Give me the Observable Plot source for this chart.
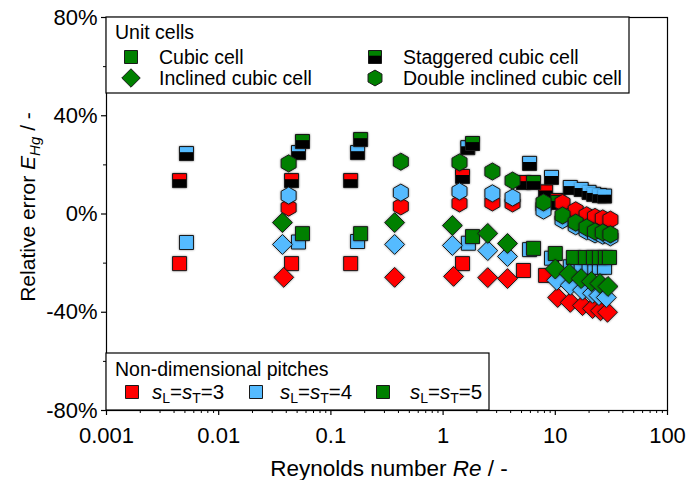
<!DOCTYPE html>
<html><head><meta charset="utf-8">
<script src="https://cdn.jsdelivr.net/npm/d3@7"></script>
<script src="https://cdn.jsdelivr.net/npm/@observablehq/plot@0.6"></script>
<style>
body{margin:0;background:#fff;}
#chart{width:688px;height:480px;}
g[aria-label="dot"] path{filter:drop-shadow(0.6px 0.6px 0.8px rgba(0,0,0,0.45));}
</style></head><body><div id="chart"></div>
<script>
// ---- data (Reynolds number Re, relative error E in %) ----
const cub3_Re = [0.00448, 0.0446, 0.150, 1.49, 5.2, 8.2];
const cub3_E  = [-20.2, -20.2, -20.2, -20.2, -23.0, -25.0];
const cub4_Re = [0.00516, 0.0514, 0.173, 1.68, 5.9, 9.25, 13.6, 17.0, 20.0, 22.5, 24.7, 27.5];
const cub4_E  = [-11.6, -11.4, -11.2, -11.9, -14.5, -18.0, -21.5, -21.6, -21.7, -21.7, -21.7, -21.7];
const cub5_Re = [0.0558, 0.184, 1.83, 6.4, 10.0, 14.5, 18.6, 21.9, 24.8, 28.0, 30.4];
const cub5_E  = [-8.0, -8.0, -9.2, -14.0, -16.1, -17.7, -17.7, -17.7, -17.7, -17.7, -17.7];

const stg3_Re = [0.00448, 0.0446, 0.150, 1.49, 5.2, 8.2, 10.5];
const stg3_E  = [13.6, 13.6, 13.6, 15.3, 12.8, 9.0, 5.5];
const stg4_Re = [0.00516, 0.0514, 0.173, 1.66, 5.9, 9.25, 13.6, 17.0, 20.0, 22.0, 24.7, 27.5];
const stg4_E  = [24.6, 25.0, 25.0, 27.0, 20.6, 14.9, 10.8, 10.0, 8.8, 8.0, 7.5, 7.3];
const stg5_Re = [0.0558, 0.184, 1.83, 6.4, 10.5];
const stg5_E  = [29.5, 30.3, 28.7, 12.8, 4.7];

const inc3_Re = [0.038, 0.37, 1.24, 2.5, 3.75, 10.5, 13.6, 17.5, 21.5, 25.3, 29.2];
const inc3_E  = [-25.8, -25.8, -25.4, -25.9, -26.3, -34.0, -36.0, -37.3, -38.5, -39.4, -40.0];
const inc4_Re = [0.037, 0.37, 1.21, 2.5, 3.75, 10.3, 13.6, 17.5, 21.5, 24.5, 28.5];
const inc4_E  = [-12.4, -12.4, -12.8, -14.9, -17.3, -27.0, -29.0, -31.0, -32.3, -33.2, -34.0];
const inc5_Re = [0.037, 0.37, 1.21, 2.5, 3.75, 10.0, 13.3, 17.0, 21.0, 25.0, 29.5];
const inc5_E  = [-3.5, -3.5, -4.7, -7.9, -12.0, -22.4, -24.3, -26.3, -27.5, -28.3, -29.5];

const dbl_Re  = [0.042, 0.42, 1.40, 2.75, 4.16, 7.85, 11.6, 15.2, 19.0, 22.6, 26.5, 31.0];
const dbl3_E  = [2.6, 3.1, 4.3, 4.7, 4.3, 3.0, 4.5, 1.5, -0.5, -1.2, -1.8, -2.3];
const dbl4_E  = [7.5, 8.7, 9.2, 8.4, 6.7, 1.4, -2.5, -5.0, -7.0, -8.3, -8.8, -9.5];
const dbl5_E  = [20.6, 21.3, 21.0, 17.3, 13.6, 4.7, -0.6, -3.5, -5.5, -7.1, -7.5, -8.3];

const yMajor = [-80, -40, 0, 40, 80];
const yMinor = [-60, -20, 20, 60];
const xMajor = [0.001, 0.01, 0.1, 1, 10, 100];
const xMajorLabels = ["0.001", "0.01", "0.1", "1", "10", "100"];

const pitchColors = {3: "#ff0000", 4: "#55bbff", 5: "#008000"};
const pitchLabels = ["3", "4", "5"];
const cellLabels = ["Cubic cell", "Staggered cubic cell", "Inclined cubic cell", "Double inclined cubic cell"];

// ---- symbols ----
const SQ = {draw(c, size){const s = Math.sqrt(size/Math.PI); c.rect(-s, -s, 2*s, 2*s);}};
const TOP = {draw(c, size){const s = Math.sqrt(size/Math.PI), i = 0.5; c.rect(-s+i, -s+i, 2*s-2*i, 0.8*s-i);}};
const DIA = {draw(c, size){const s = Math.sqrt(size/Math.PI)*1.42; c.moveTo(0,-s); c.lineTo(s,0); c.lineTo(0,s); c.lineTo(-s,0); c.closePath();}};
const HEX = {draw(c, size){const s = Math.sqrt(size/Math.PI), rx = s*1.07, ry = s*1.22;
  c.moveTo(0,-ry); c.lineTo(rx,-ry/2); c.lineTo(rx,ry/2); c.lineTo(0,ry); c.lineTo(-rx,ry/2); c.lineTo(-rx,-ry/2); c.closePath();}};

const rows = (Re, E) => Re.map((r, i) => ({Re: r, E: E[i]}));
const R = 7, ST = "#1a1a1a";
const marks = [];
function plain(data, symbol, color){ marks.push(Plot.dot(data, {x: "Re", y: "E", r: R, symbol, fill: color, stroke: ST, strokeWidth: 1})); }
function stag(data, color){
  marks.push(Plot.dot(data, {x: "Re", y: "E", r: R, symbol: SQ, fill: "#000", stroke: ST, strokeWidth: 1}));
  marks.push(Plot.dot(data, {x: "Re", y: "E", r: R, symbol: TOP, fill: color}));
}
plain(rows(cub3_Re, cub3_E), SQ, pitchColors[3]);
plain(rows(cub4_Re, cub4_E), SQ, pitchColors[4]);
plain(rows(cub5_Re, cub5_E), SQ, pitchColors[5]);
stag(rows(stg3_Re, stg3_E), pitchColors[3]);
stag(rows(stg4_Re, stg4_E), pitchColors[4]);
stag(rows(stg5_Re, stg5_E), pitchColors[5]);
plain(rows(inc3_Re, inc3_E), DIA, pitchColors[3]);
plain(rows(inc4_Re, inc4_E), DIA, pitchColors[4]);
plain(rows(inc5_Re, inc5_E), DIA, pitchColors[5]);
plain(rows(dbl_Re, dbl3_E), HEX, pitchColors[3]);
plain(rows(dbl_Re, dbl4_E), HEX, pitchColors[4]);
plain(rows(dbl_Re, dbl5_E), HEX, pitchColors[5]);

const xMinor = [];
for (const d of [0.001, 0.01, 0.1, 1, 10]) for (let k = 2; k <= 9; k++) xMinor.push(+(k*d).toPrecision(3));

const FONT = "'Liberation Sans', Arial, Helvetica, sans-serif";
const plot = Plot.plot({
  width: 688, height: 480,
  marginLeft: 106, marginRight: 21, marginTop: 17, marginBottom: 70,
  style: {fontFamily: FONT, background: "white", color: "black"},
  x: {type: "log", domain: [0.001, 100]},
  y: {domain: [-80, 80]},
  marks: [
    Plot.axisX({ticks: xMinor, tickSize: 3, tickFormat: () => "", label: null, strokeWidth: 1}),
    Plot.axisX({ticks: xMajor, tickSize: 5, tickPadding: 12, fontSize: 22, label: null, strokeWidth: 1.2,
      tickFormat: d => xMajorLabels[xMajor.indexOf(d)]}),
    Plot.axisY({ticks: yMinor, tickSize: 3, tickFormat: () => "", label: null, strokeWidth: 1}),
    Plot.axisY({ticks: yMajor, tickSize: 5, tickPadding: 4, fontSize: 22, label: null, strokeWidth: 1.2,
      tickFormat: d => d + "%"}),
    ...marks,
    Plot.frame({stroke: "black", strokeWidth: 1.2})
  ]
});
document.getElementById("chart").appendChild(plot);

// ---- titles and legends ----
const svg = d3.select(plot);
const g = svg.append("g").attr("font-family", FONT).attr("fill", "black").attr("text-anchor", "start");
const xt = g.append("text").attr("x", 389).attr("y", 476).attr("text-anchor", "middle").attr("font-size", 22.5);
xt.append("tspan").text("Reynolds number ");
xt.append("tspan").attr("font-style", "italic").text("Re");
xt.append("tspan").text(" / -");
const yt = g.append("text").attr("transform", "translate(35,207) rotate(-90)").attr("text-anchor", "middle").attr("font-size", 21);
yt.append("tspan").text("Relative error ");
yt.append("tspan").attr("font-style", "italic").text("E");
yt.append("tspan").attr("font-style", "italic").attr("font-size", 15).attr("dy", 5).text("Hg");
yt.append("tspan").attr("dy", -5).text(" / -");

const sym = (t, r) => d3.symbol().type(t).size(Math.PI*r*r)();
function legendSym(x, y, type, color, staggered){
  if (staggered){
    g.append("path").attr("d", sym(SQ, 6.5)).attr("transform", `translate(${x},${y})`).attr("fill", "#000").attr("stroke", ST);
    g.append("path").attr("d", sym(TOP, 6.5)).attr("transform", `translate(${x},${y})`).attr("fill", color);
  } else {
    g.append("path").attr("d", sym(type, 6.5)).attr("transform", `translate(${x},${y})`).attr("fill", color).attr("stroke", ST);
  }
}
// unit cells legend
g.append("rect").attr("x", 106).attr("y", 17).attr("width", 523).attr("height", 76).attr("fill", "white").attr("stroke", "black").attr("stroke-width", 1.2);
g.append("text").attr("x", 115).attr("y", 39).attr("font-size", 19.5).text("Unit cells");
const uc = [[131, 57, SQ, false], [375, 57, SQ, true], [131, 78, DIA, false], [375, 78, HEX, false]];
uc.forEach(([x, y, t, st], i) => {
  legendSym(x, y, t, pitchColors[5], st);
  g.append("text").attr("x", x + 28).attr("y", y + 7).attr("font-size", 19.5).text(cellLabels[i]);
});
// pitches legend
g.append("rect").attr("x", 106).attr("y", 353).attr("width", 383).attr("height", 57).attr("fill", "white").attr("stroke", "black").attr("stroke-width", 1.2);
g.append("text").attr("x", 115).attr("y", 376).attr("font-size", 19.5).text("Non-dimensional pitches");
[[132, 3, 152], [256, 4, 280], [383, 5, 410]].forEach(([x, p, tx], i) => {
  legendSym(x, 392, SQ, pitchColors[p], false);
  const t = g.append("text").attr("x", tx).attr("y", 399).attr("font-size", 20.5);
  t.append("tspan").attr("font-style", "italic").text("s");
  t.append("tspan").attr("font-size", 14).attr("dy", 4).text("L");
  t.append("tspan").attr("dy", -4).text("=");
  t.append("tspan").attr("font-style", "italic").text("s");
  t.append("tspan").attr("font-size", 14).attr("dy", 4).text("T");
  t.append("tspan").attr("dy", -4).text("=" + pitchLabels[i]);
});
</script></body></html>
